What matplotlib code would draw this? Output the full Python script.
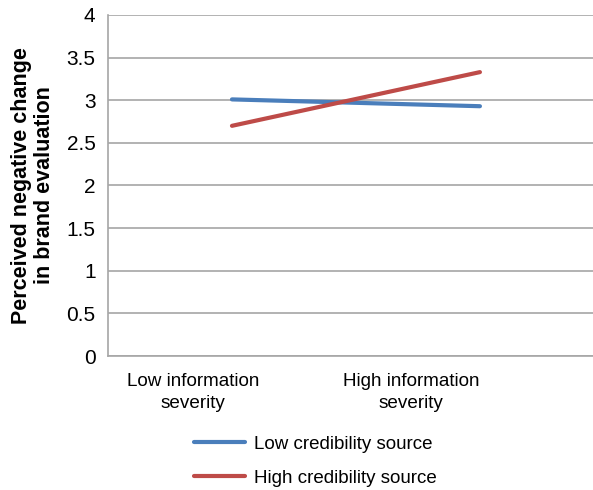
import numpy as np
import matplotlib
matplotlib.use('Agg')
import matplotlib.pyplot as plt

plt.rcParams['font.family'] = ['Liberation Sans', 'DejaVu Sans']

categories = ['Low information\nseverity', 'High information\nseverity']
low_cred = [3.01, 2.93]
high_cred = [2.70, 3.33]
yticks = [0, 0.5, 1, 1.5, 2, 2.5, 3, 3.5, 4]

blue = '#4a7ebb'
red = '#be4b48'

fig = plt.figure(figsize=(5.93, 4.9), dpi=100)
ax = fig.add_axes([108 / 593, 134 / 490, 485 / 593, 341 / 490])

x = np.arange(len(categories))
ax.plot(x, low_cred, color=blue, lw=3, solid_capstyle='round', label='Low credibility source')
ax.plot(x, high_cred, color=red, lw=3, solid_capstyle='round', label='High credibility source')

ax.set_xlim(-0.5, 1.456)
ax.set_ylim(0, 4)
ax.set_yticks(yticks)
ax.set_yticklabels(['0', '0.5', '1', '1.5', '2', '2.5', '3', '3.5', '4'], fontsize=15)
ax.yaxis.grid(True, color='#a6a6a6', lw=1.2)
ax.set_axisbelow(True)

# category labels sit a bit left of the data points, as in the source
ax.set_xticks([-0.157, 0.722])
ax.set_xticklabels(categories, fontsize=13.6, linespacing=1.4)
ax.tick_params(axis='y', length=0, pad=9)
ax.tick_params(axis='x', length=0, pad=12)

for s in ['top', 'right']:
    ax.spines[s].set_visible(False)
for s in ['left', 'bottom']:
    ax.spines[s].set_color('#a6a6a6')
    ax.spines[s].set_linewidth(1.2)

ax.set_ylabel('Perceived negative change\nin brand evaluation', fontsize=15.5,
              fontweight='bold', labelpad=8, linespacing=1.15)

fig.legend(loc='upper left', bbox_to_anchor=(177 / 593, 1 - 419 / 490), frameon=False,
           fontsize=13.5, handlelength=2.75, handletextpad=0.45, labelspacing=0.9)

fig.savefig('out.png', dpi=100)
